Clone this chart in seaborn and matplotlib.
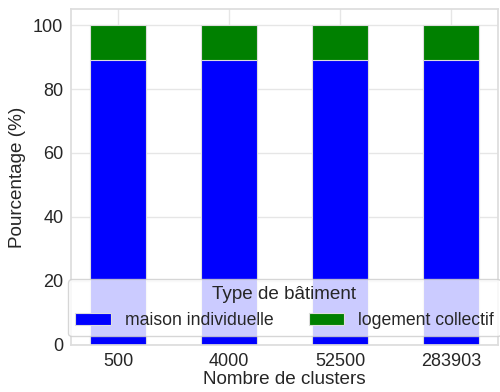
import seaborn as sns
import pandas as pd
import matplotlib.pyplot as plt

# nombre de clusters et répartition par type de bâtiment (%)
clusters = ['500', '4000', '52500', '283903']
maison_individuelle = [89.1, 89.1, 89.1, 89.1]
logement_collectif = [10.9, 10.9, 10.9, 10.9]

df = pd.DataFrame({'clusters': clusters,
                   'maison': maison_individuelle,
                   'collectif': logement_collectif})
df['total'] = df['maison'] + df['collectif']

sns.set_theme(style='whitegrid')
plt.rcParams['font.family'] = ['Liberation Sans', 'DejaVu Sans']

fig, ax = plt.subplots(figsize=(5, 3.92), dpi=100)
fig.subplots_adjust(left=0.142, right=0.996, top=0.977, bottom=0.12)

# empilement : total en vert puis maison en bleu par-dessus
sns.barplot(data=df, x='clusters', y='total', color='green', saturation=1,
            width=0.5, edgecolor='#dddddd', linewidth=0.8,
            label='logement collectif', ax=ax)
sns.barplot(data=df, x='clusters', y='maison', color='blue', saturation=1,
            width=0.5, edgecolor='#dddddd', linewidth=0.8,
            label='maison individuelle', ax=ax)

ax.set_xlim(-0.425, 3.425)
ax.set_ylim(0, 105)
ax.set_yticks([0, 20, 40, 60, 80, 100])
ax.set_xlabel('Nombre de clusters', fontsize=13.6, labelpad=1)
ax.set_ylabel('Pourcentage (%)', fontsize=13.6, labelpad=5)
ax.tick_params(labelsize=13, length=0, pad=5.5)
for s in ax.spines.values():
    s.set_color('#dddddd')
ax.grid(color='#e6e6e6')

h, l = ax.get_legend_handles_labels()
ax.legend(h[::-1], l[::-1], title='Type de bâtiment', loc='lower center',
          ncol=2, fontsize=12.7, title_fontsize=13.6, framealpha=0.8)

fig.savefig('out.png')
